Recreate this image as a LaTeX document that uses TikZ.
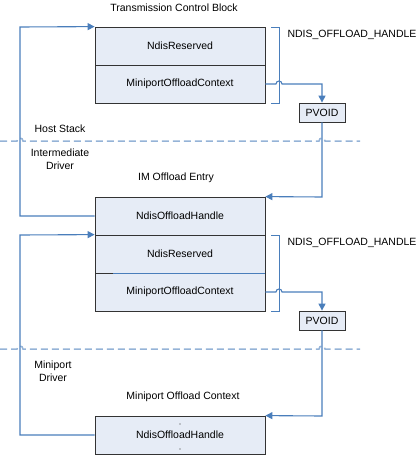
\documentclass[tikz,border=0pt]{standalone}
\usepackage{fontspec}
\setmainfont{Liberation Sans}
\usetikzlibrary{arrows.meta}
\definecolor{linkblue}{HTML}{4A7EBB}
\definecolor{dashblue}{HTML}{95B3D7}
\definecolor{cellfill}{HTML}{E6ECF6}
\definecolor{edgegray}{HTML}{333333}
\begin{document}
\begin{tikzpicture}[x=1pt, y=-1pt,
    font=\fontsize{10.5}{12.5}\selectfont,
    cell/.style={draw=edgegray, line width=0.8pt, fill=cellfill, minimum width=170pt, minimum height=38pt, inner sep=0pt},
    ptrbox/.style={draw=edgegray, line width=0.8pt, fill=cellfill, minimum width=46pt, minimum height=19pt, inner sep=0pt},
    link/.style={draw=linkblue, line width=1.1pt},
    thinlink/.style={draw=linkblue, line width=0.7pt},
    linkarr/.style={link, -{Triangle[length=7pt, width=7pt]}},
    layer/.style={draw=dashblue, line width=1.5pt, dash pattern=on 7pt off 4pt}]
    \useasboundingbox (0,0) rectangle (417,455);

    % transmission control block
    \node (tcb) at (174,8) {Transmission Control Block};
    \node[cell] (nr1) at (180,46) {NdisReserved};
    \node[cell] (moc1) at (180,84) {MiniportOffloadContext};
    \draw[thinlink] (271,27) -- (279,27) -- (279,103) -- (271,103);
    \node[anchor=west] (nh1) at (284,35) {NDIS\_OFFLOAD\_HANDLE};
    \node[ptrbox] (pv1) at (322,112.5) {PVOID};

    % layer boundary
    \draw[layer] (0,141) -- (17,141) arc[start angle=180, end angle=0, radius=3pt]
        -- (319,141) arc[start angle=180, end angle=0, radius=3pt] -- (360,141);
    \node (host) at (60,129) {Host Stack};
    \node[align=center] (imd) at (60,159) {Intermediate\\Driver};

    % IM offload entry
    \node (ime) at (176,178) {IM Offload Entry};
    \node[cell] (noh2) at (180,216) {NdisOffloadHandle};
    \node[cell] (nr2) at (180,254) {NdisReserved};
    \node[cell] (moc2) at (180,292) {MiniportOffloadContext};
    \draw[thinlink] (113,273) -- (265,273);
    \draw[thinlink] (271,235) -- (279,235) -- (279,311) -- (271,311);
    \node[anchor=west] (nh2) at (284,243) {NDIS\_OFFLOAD\_HANDLE};
    \node[ptrbox] (pv2) at (322,320.5) {PVOID};

    \draw[layer] (0,349) -- (17,349) arc[start angle=180, end angle=0, radius=3pt]
        -- (319,349) arc[start angle=180, end angle=0, radius=3pt] -- (360,349);
    \node[align=center] (mpd) at (53,371) {Miniport\\Driver};

    % miniport offload context
    \node (mpc) at (183,397) {Miniport Offload Context};
    \node[cell] (noh3) at (180,435) {NdisOffloadHandle};
    \fill[edgegray] (180,424) circle (0.6pt) (180,449) circle (0.6pt);

    % pointers
    \draw[linkarr] (moc1.east) -- (276,84) arc[start angle=180, end angle=0, radius=3pt]
        -- (322,84) -- (pv1.north);
    \draw[linkarr] (pv1.south) -- (322,197) -- (noh2.north east);
    \draw[linkarr] (noh2.west) -- (20,216) -- (20,27) -- (nr1.north west);
    \draw[linkarr] (moc2.east) -- (276,292) arc[start angle=180, end angle=0, radius=3pt]
        -- (322,292) -- (pv2.north);
    \draw[linkarr] (pv2.south) -- (322,416) -- (noh3.north east);
    \draw[linkarr] (noh3.west) -- (20,435) -- (20,235) -- (nr2.north west);
\end{tikzpicture}
\end{document}
